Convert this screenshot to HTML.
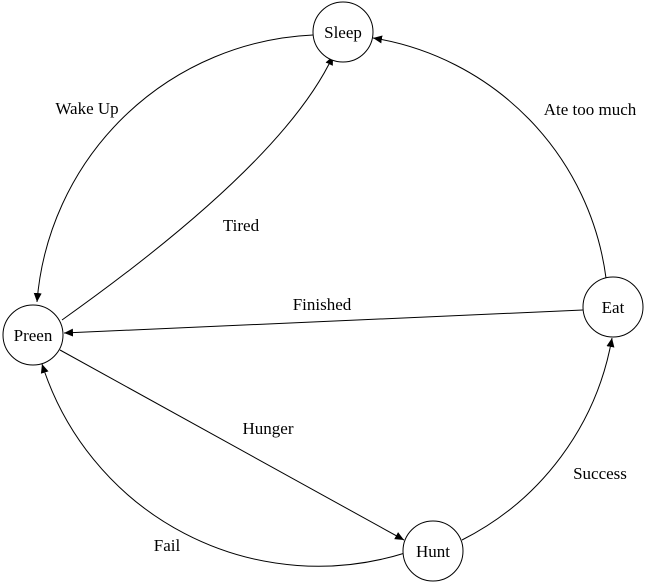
<!DOCTYPE html>
<html><head><style>body{margin:0;background:#fff}svg{display:block}text{font-family:"Liberation Serif","Times New Roman",serif;font-size:17px;fill:#000}</style></head>
<body>
<svg width="670" height="583" viewBox="0 0 670 583">
<defs><marker id="a" markerWidth="10" markerHeight="10" refX="9" refY="5" orient="auto" markerUnits="userSpaceOnUse"><path d="M0,1 L9,5 L0,9 Z" fill="#000"/></marker></defs>
<g fill="none" stroke="#000" stroke-width="1">
<path d="M313,35 A290,290 0 0 0 37,302" marker-end="url(#a)"/>
<path d="M62,320 Q283,163 333,56" marker-end="url(#a)"/>
<path d="M606,278 A280,280 0 0 0 373,38" marker-end="url(#a)"/>
<path d="M583,310 L64,333" marker-end="url(#a)"/>
<path d="M60,350 L404,540" marker-end="url(#a)"/>
<path d="M405,553 A290,290 0 0 1 42,364" marker-end="url(#a)"/>
<path d="M462,540 A280,280 0 0 0 612,338" marker-end="url(#a)"/>
<circle cx="343" cy="32" r="30" fill="#fff"/>
<circle cx="33" cy="335" r="30" fill="#fff"/>
<circle cx="613" cy="307" r="30" fill="#fff"/>
<circle cx="433" cy="551" r="30" fill="#fff"/>
</g>
<g text-anchor="middle" font-family="Liberation Serif, Times New Roman, serif" font-size="17">
<text x="343" y="38">Sleep</text>
<text x="33" y="341">Preen</text>
<text x="613" y="313">Eat</text>
<text x="433" y="557">Hunt</text>
<text x="87" y="114">Wake Up</text>
<text x="241" y="231">Tired</text>
<text x="590" y="115">Ate too much</text>
<text x="322" y="310">Finished</text>
<text x="268" y="434">Hunger</text>
<text x="600" y="479">Success</text>
<text x="167" y="551">Fail</text>
</g>
</svg>
</body></html>
